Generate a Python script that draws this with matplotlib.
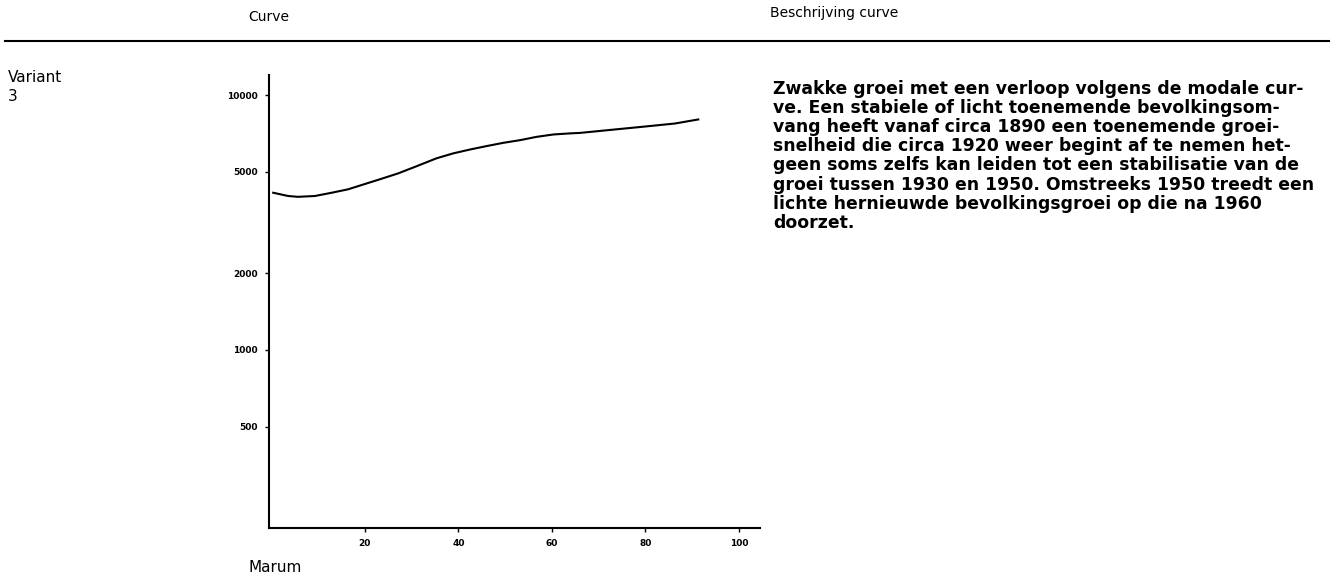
import matplotlib.pyplot as plt
import matplotlib.ticker as mticker
from matplotlib.lines import Line2D

# Data
jaren = [0.4, 3.6, 5.7, 9.3, 12.9, 16.4, 20.0, 23.6, 27.1, 30.7, 35.3, 38.9, 42.5,
         46.0, 49.6, 53.2, 56.7, 60.3, 63.9, 66.0, 72.0, 79.2, 86.3, 91.3]
inwoners = [4140, 4020, 3990, 4020, 4140, 4270, 4480, 4700, 4930, 5230, 5650, 5910, 6120,
            6310, 6500, 6660, 6860, 7010, 7080, 7110, 7290, 7510, 7740, 8030]
x_ticks = [20, 40, 60, 80, 100]
y_ticks = [500, 1000, 2000, 5000, 10000]

beschrijving = ("Zwakke groei met een verloop volgens de modale cur-\n"
                "ve. Een stabiele of licht toenemende bevolkingsom-\n"
                "vang heeft vanaf circa 1890 een toenemende groei-\n"
                "snelheid die circa 1920 weer begint af te nemen het-\n"
                "geen soms zelfs kan leiden tot een stabilisatie van de\n"
                "groei tussen 1930 en 1950. Omstreeks 1950 treedt een\n"
                "lichte hernieuwde bevolkingsgroei op die na 1960\n"
                "doorzet.")

fig = plt.figure(figsize=(13.3, 5.8), dpi=100)
ax = fig.add_axes([269 / 1330, 52 / 580, 491 / 1330, 453 / 580])

ax.plot(jaren, inwoners, color='black', linewidth=1.5, solid_joinstyle='round')
ax.set_yscale('log')
ax.set_xlim(-0.5, 104.5)
ax.set_ylim(200, 12000)

ax.set_xticks(x_ticks)
ax.set_yticks(y_ticks)
ax.yaxis.set_major_formatter(mticker.FixedFormatter([str(t) for t in y_ticks]))
ax.yaxis.set_minor_locator(mticker.NullLocator())
ax.tick_params(labelsize=6.5, length=3, width=1, pad=5)
for lab in ax.get_xticklabels() + ax.get_yticklabels():
    lab.set_fontweight('bold')

for side in ['top', 'right']:
    ax.spines[side].set_visible(False)
ax.spines['left'].set_linewidth(1.5)
ax.spines['bottom'].set_linewidth(1.5)

# Header and labels
fig.text(248 / 1330, 1 - 17 / 580, 'Curve', fontsize=10, va='center')
fig.text(770 / 1330, 1 - 13 / 580, 'Beschrijving curve', fontsize=10, va='center')
fig.add_artist(Line2D([5 / 1330, 1], [1 - 41 / 580, 1 - 41 / 580], color='black', linewidth=1.5))
fig.text(8 / 1330, 1 - 70 / 580, 'Variant\n3', fontsize=11, va='top', linespacing=1.3)
fig.text(248 / 1330, 1 - 567 / 580, 'Marum', fontsize=11, va='center')
fig.text(773 / 1330, 1 - 80 / 580, beschrijving, fontsize=12.4, va='top',
         linespacing=1.08, fontweight='bold')

fig.savefig('out.png', dpi=100)
